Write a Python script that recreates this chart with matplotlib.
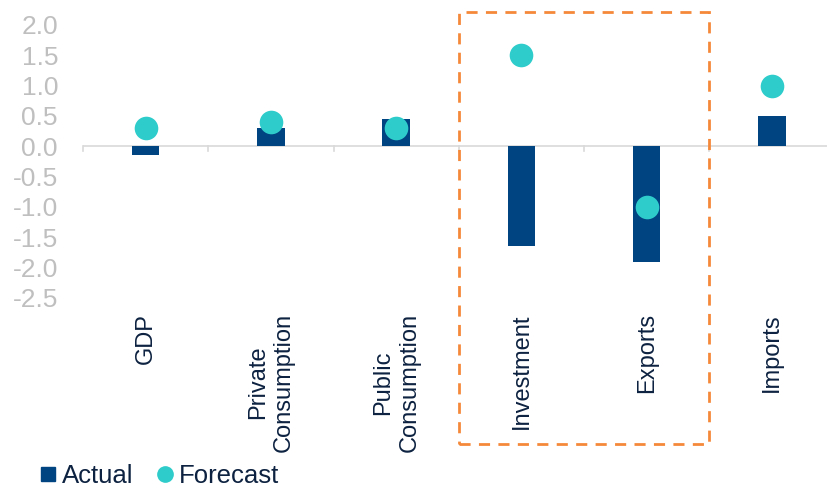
import matplotlib.pyplot as plt
import matplotlib.transforms as mtransforms
from matplotlib.patches import Rectangle
from matplotlib.lines import Line2D
import numpy as np

plt.rcParams['font.family'] = ['Liberation Sans', 'DejaVu Sans']

categories = ['GDP', 'Private\nConsumption', 'Public\nConsumption', 'Investment', 'Exports', 'Imports']
actual = [-0.15, 0.3, 0.45, -1.65, -1.9, 0.5]
forecast = [0.3, 0.4, 0.3, 1.5, -1.0, 1.0]
yticks = [2.0, 1.5, 1.0, 0.5, 0.0, -0.5, -1.0, -1.5, -2.0, -2.5]

navy = '#004481'
teal = '#2ECCCA'
orange = '#F5893A'

fig = plt.figure(figsize=(8.27, 4.88), dpi=100)
ax = fig.add_axes([83 / 827, 1 - 298 / 488, 1 - 83 / 827, (298 - 25) / 488])

x = np.arange(len(categories))
ax.bar(x, actual, width=0.22, color=navy, zorder=2)
ax.scatter(x, forecast, s=17 ** 2, color=teal, zorder=3, linewidths=0)

ax.set_xlim(-0.5, 5.44)
ax.set_ylim(-2.5, 2.0)
ax.set_yticks(yticks)
ax.set_yticklabels([f'{v:.1f}' for v in yticks], fontsize=19, color='#BFBFBF')
ax.tick_params(axis='y', length=0, pad=18)
ax.set_xticks([])
for s in ax.spines.values():
    s.set_visible(False)

# zero line with category separators
ax.axhline(0, color='#D9D9D9', lw=1.2, zorder=1)
for b in np.arange(-0.5, 5.5, 1.0):
    ax.plot([b, b], [0, -0.08], color='#D9D9D9', lw=1.2, zorder=1, clip_on=False)

trans = mtransforms.blended_transform_factory(ax.transData, ax.transAxes)
for xi, lab in zip(x, categories):
    ax.text(xi, -0.055, lab, transform=trans, rotation=90, ha='center', va='top',
            multialignment='center', fontsize=17, color='#0D2240', linespacing=1.25)

# highlight box around Investment and Exports
rect = Rectangle((2.5, (298 - 444) / 273), 2.0, (444 - 12) / 273, transform=trans,
                 fill=False, edgecolor=orange, lw=2, linestyle=(0, (4, 3)), clip_on=False)
ax.add_patch(rect)

handles = [Line2D([], [], marker='s', color=navy, linestyle='none', markersize=9.5),
           Line2D([], [], marker='o', color=teal, linestyle='none', markersize=11)]
fig.legend(handles, ['Actual', 'Forecast'], loc='lower left', bbox_to_anchor=(0.018, -0.047),
           ncol=2, frameon=False, handletextpad=0.15, columnspacing=0.8,
           labelcolor='#0D2240', handlelength=0.8,
           prop={'family': 'Liberation Sans', 'size': 18.5})

fig.savefig('out.png', dpi=100)
